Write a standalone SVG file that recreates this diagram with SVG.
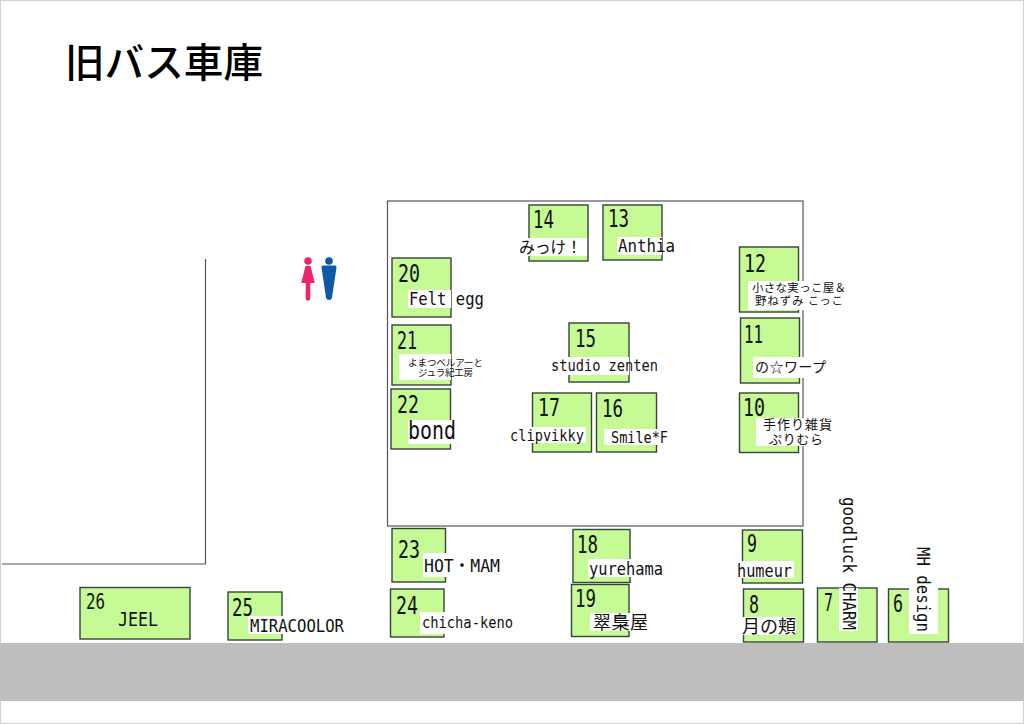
<svg xmlns="http://www.w3.org/2000/svg" width="1024" height="724" viewBox="0 0 1024 724">
<style>
.b{fill:#c5fa94;stroke:#37423a;stroke-width:1.4}
.w{fill:#fff}
.n{font-family:"DejaVu Sans Mono","Liberation Mono",monospace;font-size:25px;fill:#111}
.l{font-family:"DejaVu Sans Mono","Liberation Mono",monospace;font-size:18px;fill:#111}
.s{font-size:16px}
.j{font-family:"Noto Sans CJK JP","Noto Sans",sans-serif;fill:#111}
.line{fill:none;stroke:#555;stroke-width:1.2}
</style>
<rect width="1024" height="724" fill="#fff"/>
<rect x="0.5" y="0.5" width="1023" height="723" fill="none" stroke="#d0d0d0"/>
<rect x="0" y="643" width="1024" height="58" fill="#bebebe"/>
<text x="65" y="77" font-size="40" font-weight="500" class="j" style="fill:#000" textLength="198" lengthAdjust="spacingAndGlyphs">旧バス車庫</text>
<g id="walls"><rect class="line" x="387.5" y="201" width="415.5" height="325"/><path class="line" d="M205.5 259V564H2"/></g>
<g id="restroom-female" fill="#f0246e"><circle cx="308" cy="261" r="3.8"/><path d="M305.500 266h5l4.300 17h-4.500v15.500a2.300 2.300 0 0 1-4.600 0V283h-4.500z"/></g>
<g id="restroom-male" fill="#0f5aa5"><circle cx="329" cy="261" r="3.8"/><path d="M323 265.500h12q1.700 0 1.500 2l-4.600 30.500q-.5 2-2.900 2t-2.900-2l-4.600-30.500q-.2-2 1.500-2z"/></g>

<g id="connectors"></g>

<g id="node-14"><rect class="b" x="529" y="205" width="59" height="56"/><rect class="w" x="518" y="238" width="69" height="18"/><text class="n" x="533" y="228" textLength="21" lengthAdjust="spacingAndGlyphs">14</text><text class="j" font-size="16" x="519" y="253" textLength="63" lengthAdjust="spacing">みっけ！</text></g>
<g id="node-13"><rect class="b" x="603" y="205" width="59" height="55"/><rect class="w" x="617" y="237" width="45" height="18"/><text class="n" x="608" y="227" textLength="21" lengthAdjust="spacingAndGlyphs">13</text><text class="l" x="618" y="252" textLength="57" lengthAdjust="spacingAndGlyphs">Anthia</text></g>
<g id="node-20"><rect class="b" x="392" y="258" width="59" height="59"/><rect class="w" x="408" y="290" width="43" height="18"/><text class="n" x="398" y="282" textLength="22" lengthAdjust="spacingAndGlyphs">20</text><text class="l" x="409" y="305" textLength="75" lengthAdjust="spacingAndGlyphs">Felt egg</text></g>
<g id="node-21"><rect class="b" x="392" y="325" width="59" height="60"/><rect class="w" x="399" y="354" width="52" height="26"/><text class="n" x="397" y="349" textLength="20" lengthAdjust="spacingAndGlyphs">21</text><text class="j" font-size="9.500" x="408" y="365.500" textLength="75" lengthAdjust="spacing">よまつベルアーと</text><text class="j" font-size="9.500" x="418" y="376" textLength="55" lengthAdjust="spacing">ジュラ紀工房</text></g>
<g id="node-15"><rect class="b" x="569" y="323" width="60" height="59"/><rect class="w" x="551" y="357" width="78" height="18"/><text class="n" x="575" y="347" textLength="21" lengthAdjust="spacingAndGlyphs">15</text><text class="l s" x="551" y="371" textLength="107" lengthAdjust="spacingAndGlyphs">studio zenten</text></g>
<g id="node-12"><rect class="b" x="739.500" y="247" width="59" height="65"/><rect class="w" x="748" y="281" width="98" height="29"/><text class="n" x="744" y="272" textLength="22" lengthAdjust="spacingAndGlyphs">12</text><text class="j" font-size="11.500" x="752" y="292" textLength="94" lengthAdjust="spacing">小さな実っこ屋＆</text><text class="j" font-size="11.500" x="755" y="305" textLength="88" lengthAdjust="spacing">野ねずみ こっこ</text></g>
<g id="node-11"><rect class="b" x="740.500" y="318" width="59" height="65"/><rect class="w" x="753" y="357" width="74" height="21"/><text class="n" x="744" y="343" textLength="19" lengthAdjust="spacingAndGlyphs">11</text><text class="j" font-size="14" x="755" y="372" textLength="71" lengthAdjust="spacing">の☆ワープ</text></g>
<g id="node-10"><rect class="b" x="739.500" y="393" width="59" height="59.500"/><rect class="w" x="756" y="418" width="76" height="28"/><text class="n" x="743" y="416" textLength="22" lengthAdjust="spacingAndGlyphs">10</text><text class="j" font-size="13" x="763" y="429" textLength="69" lengthAdjust="spacing">手作り雑貨</text><text class="j" font-size="13" x="769" y="444" textLength="54" lengthAdjust="spacing">ぷりむら</text></g>
<g id="node-22"><rect class="b" x="391" y="389" width="59.500" height="60"/><rect class="w" x="408" y="420" width="48" height="24"/><text class="n" x="397" y="413" textLength="22" lengthAdjust="spacingAndGlyphs">22</text><text class="l" style="font-size:24px" x="408" y="439" textLength="48" lengthAdjust="spacingAndGlyphs">bond</text></g>
<g id="node-17"><rect class="b" x="532.500" y="393" width="59" height="59"/><rect class="w" x="510" y="427" width="76" height="16"/><text class="n" x="538" y="416" textLength="22" lengthAdjust="spacingAndGlyphs">17</text><text class="l s" x="510" y="441" textLength="74" lengthAdjust="spacingAndGlyphs">clipvikky</text></g>
<g id="node-16"><rect class="b" x="596.500" y="393" width="60" height="59"/><rect class="w" x="604" y="429" width="64" height="16"/><text class="n" x="602" y="417" textLength="21" lengthAdjust="spacingAndGlyphs">16</text><text class="l s" x="611" y="443" textLength="57" lengthAdjust="spacingAndGlyphs">Smile*F</text></g>
<g id="node-23"><rect class="b" x="392" y="528.500" width="53.500" height="53.500"/><rect class="w" x="423" y="553" width="77" height="24"/><text class="n" x="398" y="558" textLength="22" lengthAdjust="spacingAndGlyphs">23</text><text class="l" x="424" y="572" textLength="76" lengthAdjust="spacingAndGlyphs">HOT<tspan font-family="Noto Sans CJK JP">・</tspan>MAM</text></g>
<g id="node-18"><rect class="b" x="573" y="529.500" width="57" height="53"/><rect class="w" x="588" y="559" width="75" height="18"/><text class="n" x="577" y="553" textLength="21" lengthAdjust="spacingAndGlyphs">18</text><text class="l" x="589" y="575" textLength="74" lengthAdjust="spacingAndGlyphs">yurehama</text></g>
<g id="node-24"><rect class="b" x="390.500" y="589" width="53.500" height="48"/><rect class="w" x="420" y="612" width="93" height="22"/><text class="n" x="396" y="614" textLength="22" lengthAdjust="spacingAndGlyphs">24</text><text class="l s" x="422" y="628" textLength="91" lengthAdjust="spacingAndGlyphs">chicha-keno</text></g>
<g id="node-19"><rect class="b" x="571.500" y="584.500" width="57.500" height="52"/><rect class="w" x="590" y="613" width="57" height="18"/><text class="n" x="575" y="607" textLength="21" lengthAdjust="spacingAndGlyphs">19</text><text class="j" font-size="18" x="593" y="628.500" textLength="55" lengthAdjust="spacing">翠梟屋</text></g>
<g id="node-9"><rect class="b" x="742.500" y="530" width="60" height="53"/><rect class="w" x="737" y="561" width="57" height="17"/><text class="n" x="747" y="552" textLength="10" lengthAdjust="spacingAndGlyphs">9</text><text class="l" x="737" y="577" textLength="55" lengthAdjust="spacingAndGlyphs">humeur</text></g>
<g id="node-8"><rect class="b" x="743.500" y="589" width="60" height="53"/><rect class="w" x="742" y="617" width="54" height="18"/><text class="n" x="749" y="613" textLength="10" lengthAdjust="spacingAndGlyphs">8</text><text class="j" font-size="18" x="742" y="633" textLength="54" lengthAdjust="spacing">月の頬</text></g>
<g id="node-7"><rect class="b" x="817.500" y="588" width="59.500" height="54"/><rect class="w" x="839" y="588" width="19" height="43"/><text class="n" x="824" y="611" textLength="9" lengthAdjust="spacingAndGlyphs">7</text><text class="l" transform="translate(843 497) rotate(90)" x="0" y="0" textLength="133" lengthAdjust="spacingAndGlyphs">goodluck CHARM</text></g>
<g id="node-6"><rect class="b" x="888.500" y="589" width="60" height="53"/><rect class="w" x="909" y="588" width="29" height="46"/><text class="n" x="893" y="612" textLength="10" lengthAdjust="spacingAndGlyphs">6</text><text class="l" transform="translate(917 547) rotate(90)" x="0" y="0" textLength="85" lengthAdjust="spacingAndGlyphs">MH design</text></g>
<g id="node-26"><rect class="b" x="80" y="587.500" width="110" height="51.500"/><text class="n" style="font-size:22px" x="86" y="609" textLength="19" lengthAdjust="spacingAndGlyphs">26</text><text class="l" style="font-size:19px" x="118" y="626" textLength="40" lengthAdjust="spacingAndGlyphs">JEEL</text></g>
<g id="node-25"><rect class="b" x="228" y="592" width="54" height="48"/><rect class="w" x="248" y="616" width="96" height="18"/><text class="n" x="232" y="616" textLength="21" lengthAdjust="spacingAndGlyphs">25</text><text class="l" x="250" y="632" textLength="94" lengthAdjust="spacingAndGlyphs">MIRACOOLOR</text></g>
</svg>
